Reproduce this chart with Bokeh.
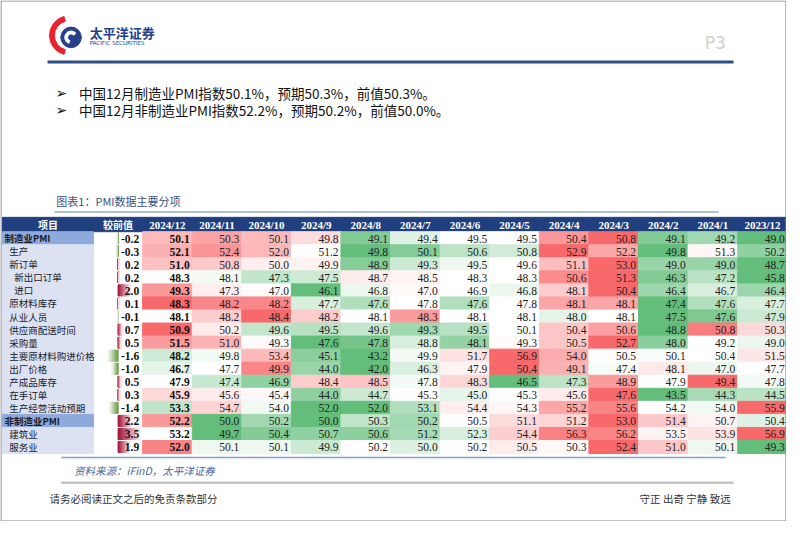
from bokeh.plotting import figure
from bokeh.models import Range1d, ColumnDataSource
from bokeh.core.properties import value
from bokeh.embed import file_html
from bokeh.resources import INLINE
import numpy as np

# ---------------- data ----------------
months = ["2024/12", "2024/11", "2024/10", "2024/9", "2024/8", "2024/7", "2024/6",
          "2024/5", "2024/4", "2024/3", "2024/2", "2024/1", "2023/12"]
items = ["制造业PMI", "生产", "新订单", "新出口订单", "进口", "原材料库存", "从业人员",
         "供应商配送时间", "采购量", "主要原材料购进价格", "出厂价格", "产成品库存",
         "在手订单", "生产经营活动预期", "非制造业PMI", "建筑业", "服务业"]
item_level = [0, 1, 1, 2, 2, 1, 1, 1, 1, 1, 1, 1, 1, 1, 0, 1, 1]
diffs = [-0.2, -0.3, 0.2, 0.2, 2.0, 0.1, -0.1, 0.7, 0.5, -1.6, -1.0, 0.5, 0.3, -1.4, 2.2, 3.5, 1.9]

pmi_mfg      = [50.1, 50.3, 50.1, 49.8, 49.1, 49.4, 49.5, 49.5, 50.4, 50.8, 49.1, 49.2, 49.0]
production   = [52.1, 52.4, 52.0, 51.2, 49.8, 50.1, 50.6, 50.8, 52.9, 52.2, 49.8, 51.3, 50.2]
new_orders   = [51.0, 50.8, 50.0, 49.9, 48.9, 49.3, 49.5, 49.6, 51.1, 53.0, 49.0, 49.0, 48.7]
new_export   = [48.3, 48.1, 47.3, 47.5, 48.7, 48.5, 48.3, 48.3, 50.6, 51.3, 46.3, 47.2, 45.8]
imports      = [49.3, 47.3, 47.0, 46.1, 46.8, 47.0, 46.9, 46.8, 48.1, 50.4, 46.4, 46.7, 46.4]
raw_stock    = [48.3, 48.2, 48.2, 47.7, 47.6, 47.8, 47.6, 47.8, 48.1, 48.1, 47.4, 47.6, 47.7]
employment   = [48.1, 48.2, 48.4, 48.2, 48.1, 48.3, 48.1, 48.1, 48.0, 48.1, 47.5, 47.6, 47.9]
delivery     = [50.9, 50.2, 49.6, 49.5, 49.6, 49.3, 49.5, 50.1, 50.4, 50.6, 48.8, 50.8, 50.3]
purchases    = [51.5, 51.0, 49.3, 47.6, 47.8, 48.8, 48.1, 49.3, 50.5, 52.7, 48.0, 49.2, 49.0]
input_price  = [48.2, 49.8, 53.4, 45.1, 43.2, 49.9, 51.7, 56.9, 54.0, 50.5, 50.1, 50.4, 51.5]
output_price = [46.7, 47.7, 49.9, 44.0, 42.0, 46.3, 47.9, 50.4, 49.1, 47.4, 48.1, 47.0, 47.7]
fin_stock    = [47.9, 47.4, 46.9, 48.4, 48.5, 47.8, 48.3, 46.5, 47.3, 48.9, 47.9, 49.4, 47.8]
backlog      = [45.9, 45.6, 45.4, 44.0, 44.7, 45.3, 45.0, 45.3, 45.6, 47.6, 43.5, 44.3, 44.5]
expectation  = [53.3, 54.7, 54.0, 52.0, 52.0, 53.1, 54.4, 54.3, 55.2, 55.6, 54.2, 54.0, 55.9]
pmi_nonmfg   = [52.2, 50.0, 50.2, 50.0, 50.3, 50.2, 50.5, 51.1, 51.2, 53.0, 51.4, 50.7, 50.4]
construction = [53.2, 49.7, 50.4, 50.7, 50.6, 51.2, 52.3, 54.4, 56.3, 56.2, 53.5, 53.9, 56.9]
services     = [52.0, 50.1, 50.1, 49.9, 50.2, 50.0, 50.2, 50.5, 50.3, 52.4, 51.0, 50.1, 49.3]

rows = [pmi_mfg, production, new_orders, new_export, imports, raw_stock, employment,
        delivery, purchases, input_price, output_price, fin_stock, backlog, expectation,
        pmi_nonmfg, construction, services]

bullets = ["中国12月制造业PMI指数50.1%，预期50.3%，前值50.3%。",
           "中国12月非制造业PMI指数52.2%，预期50.2%，前值50.0%。"]

# ---------------- layout ----------------
W, H = 802, 537
X_LABEL_L, X_DIFF, X_DATA, COL_W = 2, 95, 145, 50.6
AXIS_X, BAR_SCALE = 120, 6.3
Y_HEAD, HEAD_H, ROW_H = 223.5, 14.8, 13.45
Y_ROW0 = Y_HEAD + HEAD_H

SERIF = value("Liberation Serif")
CJK = value("Noto Sans CJK SC")

RED = np.array([248, 105, 107])
GREEN = np.array([99, 190, 123])
WHITE = np.array([255, 255, 255])


def hexc(c):
    c = np.clip(np.round(c), 0, 255).astype(int)
    return "#%02x%02x%02x" % tuple(c)


def scale_color(v, lo, mid, hi):
    if v >= mid:
        t = 0 if hi == mid else (v - mid) / (hi - mid)
        return hexc(WHITE + (RED - WHITE) * t)
    t = 0 if mid == lo else (mid - v) / (mid - lo)
    return hexc(WHITE + (GREEN - WHITE) * t)


p = figure(width=786, height=521, x_range=Range1d(0, W), y_range=Range1d(H, 0),
           output_backend="svg", toolbar_location=None, min_border=0,
           x_axis_type=None, y_axis_type=None)
p.xgrid.visible = False
p.ygrid.visible = False
p.outline_line_color = None
p.background_fill_color = "white"
p.border_fill_color = "white"

# ---------------- header area (logo etc.) ----------------
p.annular_wedge(x=[70], y=[36], inner_radius=15, outer_radius=20,
                start_angle=np.deg2rad(105), end_angle=np.deg2rad(255),
                color="#e8232f")
p.circle(x=[72], y=[38], radius=10.5, color="#27408b")
p.annular_wedge(x=[72], y=[38], inner_radius=3.5, outer_radius=6.5,
                start_angle=np.deg2rad(40), end_angle=np.deg2rad(250), color="white")
p.text(x=[91], y=[33], text=["太平洋证券"], text_font=CJK, text_font_style="bold",
       text_font_size="13px", text_color="#23408e", text_baseline="middle")
p.text(x=[91], y=[44], text=["PACIFIC SECURITIES"], text_font=value("DejaVu Sans"),
       text_font_size="5.5px", text_color="#23408e", text_baseline="middle")
p.text(x=[740], y=[44], text=["P3"], text_font=value("DejaVu Sans"),
       text_font_size="17px", text_color="#d0d0d0", text_align="right", text_baseline="middle")
p.segment(x0=[48], y0=[63.5], x1=[748], y1=[63.5], line_color="#2e4f86", line_width=3)

for i, b in enumerate(bullets):
    yy = 95 + i * 18
    p.text(x=[56], y=[yy], text=["➢"], text_font=value("DejaVu Sans"),
           text_font_size="14px", text_color="#111111", text_baseline="middle")
    p.text(x=[80], y=[yy], text=[b], text_font=CJK, text_font_size="13.5px",
           text_color="#111111", text_baseline="middle")

p.text(x=[57], y=[207], text=["图表1：PMI数据主要分项"], text_font=CJK,
       text_font_size="11px", text_color="#3c5080", text_baseline="middle")
p.segment(x0=[55], y0=[218], x1=[733], y1=[218], line_color="#9aaac4", line_width=1.5)

# ---------------- table ----------------
p.quad(left=[X_LABEL_L], right=[W], top=[Y_HEAD], bottom=[Y_HEAD + HEAD_H], color="#203f7e")
head_x = [(X_LABEL_L + X_DIFF) / 2, (X_DIFF + X_DATA) / 2] + \
         [X_DATA + (c + 0.5) * COL_W for c in range(len(months))]
head_t = ["项目", "较前值"] + months
p.text(x=head_x[:2], y=[Y_HEAD + HEAD_H / 2] * 2, text=head_t[:2], text_font=CJK,
       text_font_style="bold", text_font_size="10px", text_color="white",
       text_align="center", text_baseline="middle")
p.text(x=head_x[2:], y=[Y_HEAD + HEAD_H / 2] * len(months), text=head_t[2:], text_font=SERIF,
       text_font_style="bold", text_font_size="11px", text_color="white",
       text_align="center", text_baseline="middle")

# label column
lab_l, lab_r, lab_t, lab_b, lab_c = [], [], [], [], []
for r, name in enumerate(items):
    top = Y_ROW0 + r * ROW_H
    lab_l.append(X_LABEL_L); lab_r.append(X_DIFF); lab_t.append(top); lab_b.append(top + ROW_H)
    lab_c.append("#8eaadc" if item_level[r] == 0 else "#dce2f1")
p.quad(left=lab_l, right=lab_r, top=lab_t, bottom=lab_b, color=lab_c)

for r, name in enumerate(items):
    yc = Y_ROW0 + (r + 0.5) * ROW_H
    xl = 4 + item_level[r] * 5
    p.text(x=[xl], y=[yc], text=[name], text_font=CJK,
           text_font_style="bold" if item_level[r] == 0 else "normal",
           text_font_size="9.5px", text_color="#1a1a2a", text_baseline="middle")

# heat cells
cl, cr, ct, cb, cc, tx, ty, tt = [], [], [], [], [], [], [], []
for r, vals in enumerate(rows):
    lo, mid, hi = min(vals), float(np.median(vals)), max(vals)
    top = Y_ROW0 + r * ROW_H
    for c, v in enumerate(vals):
        left = X_DATA + c * COL_W
        cl.append(left); cr.append(left + COL_W); ct.append(top); cb.append(top + ROW_H)
        cc.append(scale_color(v, lo, mid, hi))
        tx.append(left + COL_W - 2.5); ty.append(top + ROW_H / 2 + 0.5); tt.append("%.1f" % v)
p.quad(left=cl, right=cr, top=ct, bottom=cb, color=cc)

n = len(months)
first_idx = [i for i in range(len(tt)) if i % n == 0]
rest_idx = [i for i in range(len(tt)) if i % n != 0]
p.text(x=[tx[i] for i in first_idx], y=[ty[i] for i in first_idx],
       text=[tt[i] for i in first_idx], text_font=SERIF, text_font_style="bold",
       text_font_size="11.5px", text_color="#111111", text_align="right", text_baseline="middle")
p.text(x=[tx[i] for i in rest_idx], y=[ty[i] for i in rest_idx],
       text=[tt[i] for i in rest_idx], text_font=SERIF,
       text_font_size="11.5px", text_color="#222222", text_align="right", text_baseline="middle")

# data bars in diff column
NSEG = 14
bl, br, bt, bb, bc = [], [], [], [], []
RED_DARK, RED_LIGHT = np.array([160, 8, 45]), np.array([252, 232, 238])
GRN_DARK, GRN_LIGHT = np.array([96, 148, 62]), np.array([238, 244, 233])
for r, d in enumerate(diffs):
    top = Y_ROW0 + r * ROW_H + 1
    bot = Y_ROW0 + (r + 1) * ROW_H - 1
    length = abs(d) * BAR_SCALE
    sgn = 1 if d >= 0 else -1
    dark, light = (RED_DARK, RED_LIGHT) if d >= 0 else (GRN_DARK, GRN_LIGHT)
    for k in range(NSEG):
        a0 = AXIS_X + sgn * length * k / NSEG
        a1 = AXIS_X + sgn * length * (k + 1) / NSEG
        f = (k + 0.5) / NSEG
        bl.append(min(a0, a1)); br.append(max(a0, a1)); bt.append(top); bb.append(bot)
        bc.append(hexc(dark + (light - dark) * f))
p.quad(left=bl, right=br, top=bt, bottom=bb, color=bc)
p.text(x=[X_DATA - 3.5] * len(diffs), y=[Y_ROW0 + (r + 0.5) * ROW_H + 0.5 for r in range(len(diffs))],
       text=["%.1f" % d for d in diffs], text_font=SERIF, text_font_style="bold",
       text_font_size="11.5px", text_color="#111111", text_align="right", text_baseline="middle")

# ---------------- footer ----------------
p.segment(x0=[62], y0=[471], x1=[740], y1=[471], line_color="#7f9fd6", line_width=1.5)
p.text(x=[75], y=[484], text=["资料来源：iFinD，太平洋证券"], text_font=CJK,
       text_font_style="italic", text_font_size="10.5px", text_color="#4a6496",
       text_baseline="middle")
p.segment(x0=[62], y0=[497], x1=[748], y1=[497], line_color="#c4c4c4", line_width=2.5)
p.text(x=[50], y=[513], text=["请务必阅读正文之后的免责条款部分"], text_font=CJK,
       text_font_size="10.5px", text_color="#333333", text_baseline="middle")
p.text(x=[745], y=[513], text=["守正 出奇 宁静 致远"], text_font=CJK,
       text_font_size="10.5px", text_color="#333333", text_align="right", text_baseline="middle")

# outer border
p.quad(left=[0.5], right=[W - 0.5], top=[0.5], bottom=[H - 0.5], fill_color=None,
       line_color="#8a8a8a", line_width=1.2)

open("out.html", "w").write(file_html(p, INLINE))
